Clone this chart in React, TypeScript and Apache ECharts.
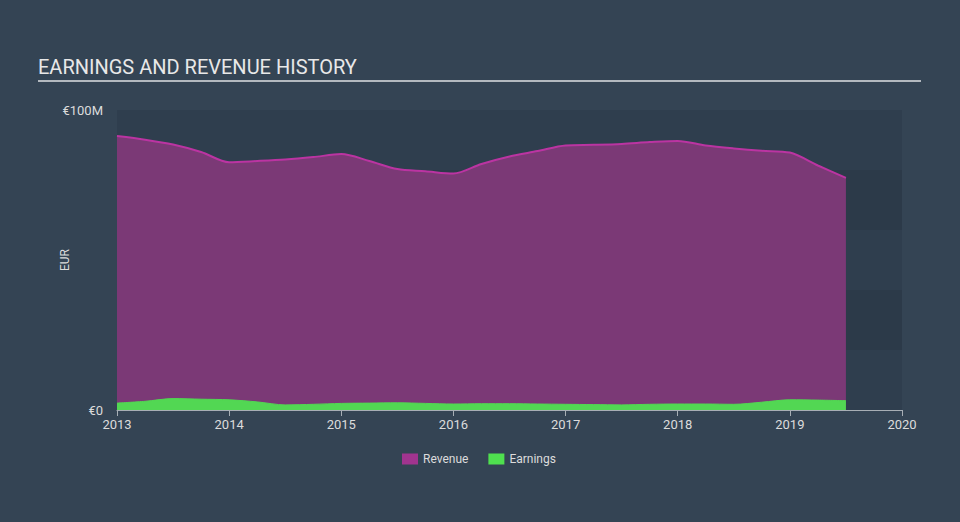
import React, { useEffect, useRef } from "react";
import * as echarts from "echarts";

const quarters = [
  2013.0, 2013.25, 2013.5, 2013.75, 2014.0, 2014.25, 2014.5, 2014.75,
  2015.0, 2015.25, 2015.5, 2015.75, 2016.0, 2016.25, 2016.5, 2016.75,
  2017.0, 2017.25, 2017.5, 2017.75, 2018.0, 2018.25, 2018.5, 2018.75,
  2019.0, 2019.25, 2019.5,
];
const revenue = [
  91.3, 90.1, 88.5, 86.0, 82.6, 83.0, 83.5, 84.3,
  85.3, 83.0, 80.3, 79.6, 78.8, 82.0, 84.5, 86.3,
  88.2, 88.4, 88.7, 89.3, 89.7, 88.2, 87.2, 86.4,
  85.8, 81.5, 77.4,
];
const earnings = [
  2.3, 2.9, 3.8, 3.6, 3.4, 2.7, 1.7, 1.9,
  2.2, 2.3, 2.4, 2.2, 2.0, 2.1, 2.1, 2.0,
  1.9, 1.8, 1.7, 1.9, 2.0, 2.0, 1.9, 2.6,
  3.4, 3.3, 3.1,
];
const yLabels: Record<number, string> = { 0: "€0", 100: "€100M" };
const yAxisTitle = "EUR";

export default function App() {
  const ref = useRef<HTMLDivElement>(null);
  useEffect(() => {
    if (!ref.current) return;
    const chart = echarts.init(ref.current, null, { renderer: "svg" });
    const font = "Roboto";
    chart.setOption({
      animation: false,
      backgroundColor: "#344454",
      textStyle: { fontFamily: font },
      title: {
        text: "EARNINGS AND REVENUE HISTORY",
        left: 38,
        top: 57,
        padding: 0,
        textStyle: { color: "#e8e8e8", fontSize: 20, fontWeight: "normal", fontFamily: font },
      },
      graphic: [
        { type: "rect", left: 38, top: 80, shape: { width: 883, height: 2 }, style: { fill: "#b3b9bf" } },
        {
          type: "text",
          x: 65,
          y: 260,
          rotation: Math.PI / 2,
          style: {
            text: yAxisTitle,
            fill: "#dcdcdc",
            fontSize: 12,
            fontFamily: font,
            textAlign: "center",
            textVerticalAlign: "middle",
          },
        },
      ],
      legend: {
        bottom: 52,
        left: 397,
        itemWidth: 16,
        itemHeight: 11,
        itemGap: 20,
        icon: "rect",
        textStyle: { color: "#dcdcdc", fontSize: 12, fontFamily: font },
        data: [
          { name: "Revenue", itemStyle: { color: "#a1348f" } },
          { name: "Earnings", itemStyle: { color: "#4fe04f" } },
        ],
      },
      grid: { left: 117, right: 58, top: 110, bottom: 112 },
      xAxis: {
        type: "value",
        min: 2013,
        max: 2020,
        interval: 1,
        axisLine: { lineStyle: { color: "#a7aeb5", width: 1 } },
        axisTick: { length: 6, lineStyle: { color: "#a7aeb5" } },
        axisLabel: { color: "#dcdcdc", fontSize: 13, margin: 8, formatter: (v: number) => String(v) },
        splitLine: { show: false },
      },
      yAxis: {
        type: "value",
        min: 0,
        max: 100,
        interval: 20,
        axisLine: { show: false },
        axisTick: { show: false },
        axisLabel: {
          color: "#dcdcdc",
          fontSize: 13,
          margin: 14,
          formatter: (v: number) => yLabels[v] ?? "",
        },
        splitLine: { show: false },
        splitArea: { show: true, areaStyle: { color: ["#2f3e4e", "#2c3a49"] } },
      },
      series: [
        {
          name: "Revenue",
          type: "line",
          smooth: 0.3,
          symbol: "none",
          data: quarters.map((q, i) => [q, revenue[i]]),
          lineStyle: { color: "#bb34a2", width: 2 },
          itemStyle: { color: "#a1348f" },
          areaStyle: { color: "#7b3976", opacity: 1 },
          z: 2,
        },
        {
          name: "Earnings",
          type: "line",
          smooth: 0.3,
          symbol: "none",
          data: quarters.map((q, i) => [q, earnings[i]]),
          lineStyle: { color: "#52d753", width: 1 },
          itemStyle: { color: "#4fe04f" },
          areaStyle: { color: "#52d753", opacity: 1 },
          z: 3,
        },
      ],
    });
    return () => chart.dispose();
  }, []);
  return (
    <div
      ref={ref}
      style={{ position: "fixed", left: 0, top: 0, width: 960, height: 522 }}
    />
  );
}
